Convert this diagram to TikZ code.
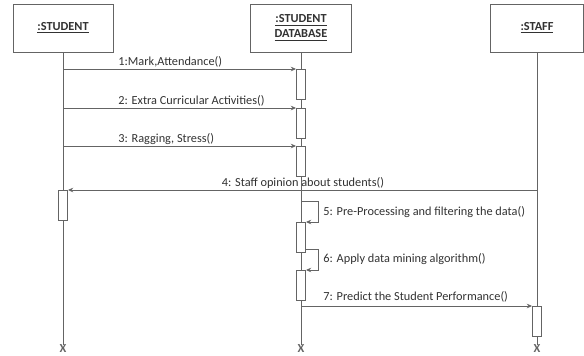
\documentclass[tikz,border=0pt]{standalone}
\usepackage{fontspec}
\setmainfont{Carlito}
\usetikzlibrary{arrows.meta,positioning}
\definecolor{line_grey}{RGB}{100,100,100}
\definecolor{text_grey}{RGB}{50,50,50}

\begin{document}
\begin{tikzpicture}[x=0.02cm,y=-0.02cm,line width=0.5pt,
    obj/.style={draw=line_grey,fill=white,minimum height=0.96cm,align=center,text=text_grey,font=\fontsize{7}{8.5}\selectfont\bfseries},
    act/.style={draw=line_grey,fill=white,minimum width=0.18cm,minimum height=0.6cm,inner sep=0pt,anchor=north},
    msg/.style={line_grey,-{Stealth[length=3pt,width=2.6pt]}},
    lbl/.style={anchor=west,inner sep=0pt,text=text_grey,font=\fontsize{7}{8}\selectfont},
    endx/.style={inner sep=0pt,text=line_grey,font=\fontsize{7}{8}\selectfont\bfseries}]
  \useasboundingbox (0,0) rectangle (584,355);
  \node[obj,minimum width=2cm] (student) at (63,28) {\underline{:STUDENT}};
  \node[obj,minimum width=2.02cm] (db) at (301,28) {\underline{:STUDENT}\\\underline{DATABASE}};
  \node[obj,minimum width=1.86cm] (staff) at (537,28) {\underline{:STAFF}};
  \node[endx] (sx) at (63,349) {X};
  \node[endx] (dx) at (301,349) {X};
  \node[endx] (fx) at (537,349) {X};
  \draw[line_grey] (student) -- (sx);
  \draw[line_grey] (db) -- (dx);
  \draw[line_grey] (staff) -- (fx);
  \coordinate (s1) at (63,69);
  \coordinate (s2) at (63,108);
  \coordinate (s3) at (63,146);
  \coordinate (f4) at (537,190);
  \coordinate (d5) at (301,201);
  \coordinate (d7) at (301,306);
  \node[act] (act1) at (301,69) {};
  \node[act] (act2) at (301,108) {};
  \node[act] (act3) at (301,146) {};
  \node[act] (act4) at (63,190) {};
  \node[act] (act5) at (301,222) {};
  \node[act] (act6) at (301,270) {};
  \node[act] (act7) at (537,306) {};
  \coordinate (d6) at ([yshift=0.06cm]act5.south east);
  \draw[msg] (s1) -- (act1.north west);
  \draw[msg] (s2) -- (act2.north west);
  \draw[msg] (s3) -- (act3.north west);
  \draw[msg] (f4) -- (act4.north east);
  \draw[msg] (d5) -- +(17,0) |- (act5.north east);
  \draw[msg] (d6) -- +(12,0) |- (act6.north east);
  \draw[msg] (d7) -- (act7.north west);
  \node[lbl] (l1) at (118,62) {1:Mark,Attendance()};
  \node[lbl] (l2) at (118,101) {2: Extra Curricular Activities()};
  \node[lbl] (l3) at (118,139) {3: Ragging, Stress()};
  \node[lbl,anchor=center] (l4) at (303,183) {4: Staff opinion about students()};
  \node[lbl] (l5) at (323,212) {5: Pre-Processing and filtering the data()};
  \node[lbl] (l6) at (323,259) {6: Apply data mining algorithm()};
  \node[lbl] (l7) at (323,297) {7: Predict the Student Performance()};
\end{tikzpicture}
\end{document}
